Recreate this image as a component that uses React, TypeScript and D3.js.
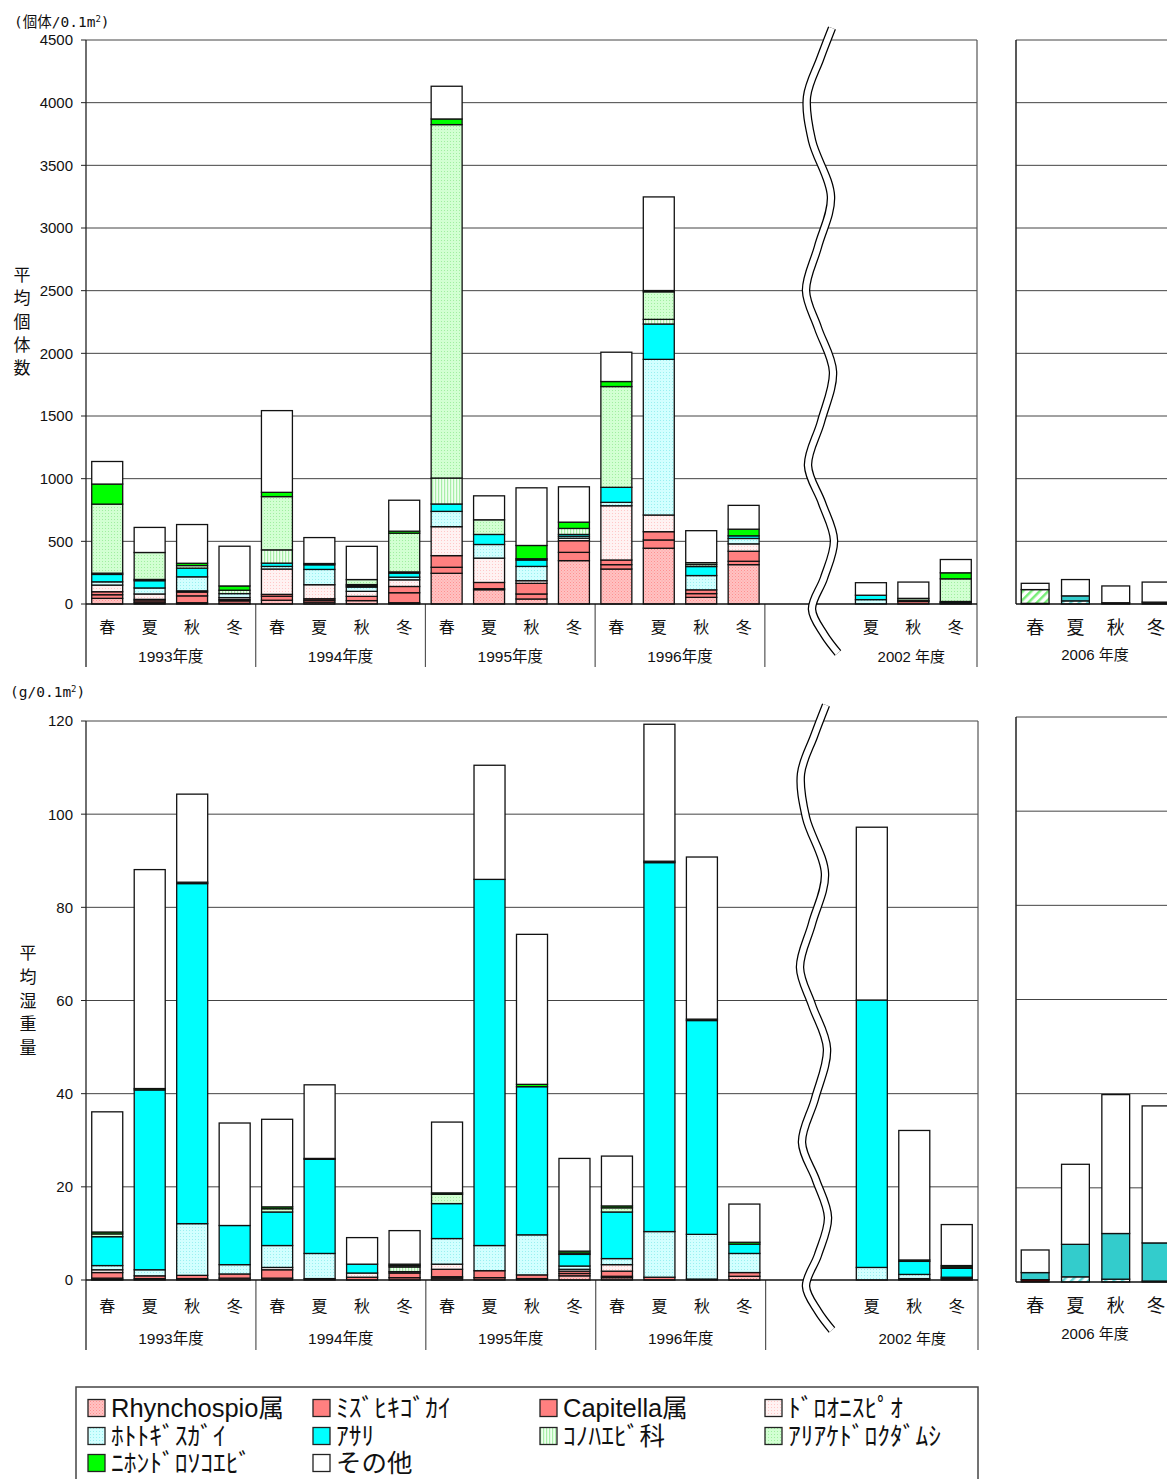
import React from 'react';
import * as d3 from 'd3';

// ---------- categories ----------
const seasons = ['春', '夏', '秋', '冬'];
const yearLabels = ['1993年度', '1994年度', '1995年度', '1996年度'];
const year2002Label = '2002 年度';
const year2006Label = '2006 年度';
const dataCats = [
  '1993-春', '1993-夏', '1993-秋', '1993-冬',
  '1994-春', '1994-夏', '1994-秋', '1994-冬',
  '1995-春', '1995-夏', '1995-秋', '1995-冬',
  '1996-春', '1996-夏', '1996-秋', '1996-冬',
  '2002-夏', '2002-秋', '2002-冬',
];
const mainSlots = [...dataCats.slice(0, 16), 'gap', '2002-春', '2002-夏', '2002-秋', '2002-冬'];

// ---------- series ----------
const seriesKeys = ['rhyncho', 'mizuhiki', 'capitella', 'drot', 'hotoke', 'asari', 'konoha', 'ariake', 'nihon', 'other'];
const seriesLabels = ['Rhynchospio属', 'ﾐｽﾞﾋｷｺﾞｶｲ', 'Capitella属', 'ﾄﾞﾛｵﾆｽﾋﾟｵ', 'ﾎﾄﾄｷﾞｽｶﾞｲ', 'ｱｻﾘ', 'ｺﾉﾊｴﾋﾞ科', 'ｱﾘｱｹﾄﾞﾛｸﾀﾞﾑｼ', 'ﾆﾎﾝﾄﾞﾛｿｺｴﾋﾞ', 'その他'];

// ---------- abundance (個体/0.1m2) 1993-1996, 2002 ----------
const rhynchoN = [45, 10, 10, 5, 30, 15, 27, 10, 245, 114, 40, 346, 279, 445, 53, 314, 0, 0, 0];
const mizuhikiN = [29, 15, 55, 20, 32, 15, 34, 80, 48, 8, 40, 66, 35, 66, 30, 27, 0, 20, 5];
const capitellaN = [24, 12, 30, 10, 15, 12, 0, 50, 93, 50, 85, 93, 37, 66, 30, 80, 0, 5, 5];
const drotN = [53, 43, 10, 16, 202, 112, 40, 53, 231, 194, 21, 20, 433, 133, 0, 59, 0, 0, 0];
const hotokeN = [26, 48, 112, 32, 21, 122, 34, 21, 122, 109, 114, 15, 27, 1242, 114, 43, 35, 5, 5];
const asariN = [59, 58, 69, 0, 26, 37, 10, 32, 59, 80, 51, 15, 120, 282, 72, 21, 35, 0, 5];
const konohaN = [10, 10, 0, 27, 106, 10, 10, 10, 207, 0, 10, 48, 0, 37, 16, 0, 0, 0, 0];
const ariakeN = [551, 215, 21, 0, 425, 0, 40, 309, 2820, 117, 0, 0, 804, 220, 15, 0, 0, 15, 181];
const nihonN = [160, 0, 18, 34, 34, 0, 0, 16, 45, 0, 106, 50, 40, 10, 0, 53, 0, 0, 48];
const otherN = [180, 200, 309, 317, 652, 207, 265, 247, 261, 191, 460, 282, 234, 747, 255, 190, 100, 130, 106];

// ---------- wet weight (g/0.1m2) 1993-1996, 2002 ----------
const rhynchoW = [0.1, 0, 0, 0, 0, 0, 0, 0, 0.4, 0, 0, 0.9, 0.5, 0, 0, 0.8, 0, 0, 0];
const mizuhikiW = [0.3, 0.3, 0.3, 0.4, 0.4, 0.3, 0.6, 0.5, 0.3, 0.5, 0.3, 0.5, 0.3, 0.6, 0.2, 0.8, 0, 0.3, 0.3];
const capitellaW = [1.2, 0.6, 0.7, 0.9, 1.8, 0, 0, 1.0, 1.6, 1.5, 0.8, 0.5, 1.1, 0, 0, 0, 0, 0, 0.3];
const drotW = [0.6, 0, 0, 0, 0.5, 0, 0.9, 0.3, 1.1, 0, 0, 0.4, 1.4, 0, 0, 0, 0, 0, 0];
const hotokeW = [0.9, 1.3, 11.1, 2.0, 4.7, 5.4, 0, 0, 5.5, 5.4, 8.6, 0.7, 1.3, 9.8, 9.6, 4.1, 2.7, 0.9, 0];
const asariW = [6.2, 38.6, 73.0, 8.4, 7.2, 20.2, 1.9, 0, 7.5, 78.6, 31.8, 2.5, 10.0, 79.2, 45.9, 2.0, 57.4, 2.8, 1.9];
const konohaW = [0, 0, 0, 0, 0, 0, 0, 1.0, 0, 0, 0, 0.3, 0, 0, 0, 0, 0, 0, 0];
const ariakeW = [0.6, 0, 0, 0, 0.7, 0, 0, 0.3, 2.0, 0, 0, 0, 0.9, 0, 0, 0, 0, 0, 0.3];
const nihonW = [0.4, 0.3, 0.3, 0, 0.4, 0.2, 0, 0.3, 0.3, 0, 0.5, 0.4, 0.4, 0.3, 0.3, 0.4, 0, 0.3, 0.3];
const otherW = [25.8, 47, 18.9, 22, 18.8, 15.8, 5.7, 7.2, 15.2, 24.5, 32.2, 19.9, 10.7, 29.4, 34.8, 8.2, 37.1, 27.8, 8.8];

// ---------- 2006 (春 夏 秋 冬) ----------
const rhyncho06N = [0, 0, 0, 0];
const mizuhiki06N = [0, 0, 0, 0];
const capitella06N = [5, 0, 0, 15];
const drot06N = [0, 0, 0, 0];
const hotoke06N = [0, 25, 0, 0];
const asari06N = [0, 40, 10, 0];
const konoha06N = [0, 0, 0, 0];
const ariake06N = [110, 0, 0, 0];
const nihon06N = [0, 0, 0, 0];
const other06N = [50, 130, 134, 160];

const rhyncho06W = [0, 0, 0, 0];
const mizuhiki06W = [0.5, 0, 0, 0.2];
const capitella06W = [0, 0, 0, 0];
const drot06W = [0, 0, 0, 0];
const hotoke06W = [0, 1.1, 0.6, 0];
const asari06W = [1.5, 6.9, 9.7, 8.1];
const konoha06W = [0, 0, 0, 0];
const ariake06W = [0, 0, 0, 0];
const nihon06W = [0, 0, 0, 0];
const other06W = [4.8, 17.0, 29.5, 29.1];

const countsMain = [rhynchoN, mizuhikiN, capitellaN, drotN, hotokeN, asariN, konohaN, ariakeN, nihonN, otherN];
const weightsMain = [rhynchoW, mizuhikiW, capitellaW, drotW, hotokeW, asariW, konohaW, ariakeW, nihonW, otherW];
const counts06 = [rhyncho06N, mizuhiki06N, capitella06N, drot06N, hotoke06N, asari06N, konoha06N, ariake06N, nihon06N, other06N];
const weights06 = [rhyncho06W, mizuhiki06W, capitella06W, drot06W, hotoke06W, asari06W, konoha06W, ariake06W, nihon06W, other06W];

const countTicks = d3.range(0, 4501, 500);
const weightTicks = d3.range(0, 121, 20);

// ---------- styles ----------
const fills: Record<string, string> = {
  rhyncho: 'url(#pRh)',
  mizuhiki: '#FF8080',
  capitella: '#FF8080',
  drot: 'url(#pDr)',
  hotoke: 'url(#pHo)',
  asari: '#00FFFF',
  konoha: 'url(#pKo)',
  ariake: 'url(#pAr)',
  nihon: '#00FF00',
  other: '#FFFFFF',
};
const fills06: Record<string, string> = {
  ...fills,
  asari: '#33CCCC',
  hotoke: 'url(#pHo6)',
  ariake: 'url(#pAr6)',
  mizuhiki: '#660000',
  capitella: '#222222',
};

const SANS = "'Liberation Sans', Arial, 'Noto Sans CJK JP', sans-serif";
const CJK = "'Noto Sans CJK JP', sans-serif";
const MONO = "'DejaVu Sans Mono', 'Noto Sans CJK JP', monospace";

function buildRows(cats: string[], arrays: number[][]) {
  return cats.map((c, i) => {
    const row: any = { cat: c };
    seriesKeys.forEach((k, j) => (row[k] = arrays[j][i]));
    return row;
  });
}

function Bars({ rows, x, y, fillMap }: any) {
  const stacked = d3.stack().keys(seriesKeys)(rows);
  const bw = x.bandwidth();
  return (
    <g>
      {stacked.map((layer: any) =>
        layer.map((d: any, i: number) => {
          const h = y(d[0]) - y(d[1]);
          if (h <= 0.01) return null;
          return (
            <rect
              key={layer.key + i}
              x={x(rows[i].cat)}
              y={y(d[1])}
              width={bw}
              height={h}
              fill={fillMap[layer.key]}
              stroke="#111"
              strokeWidth={1.3}
            />
          );
        })
      )}
    </g>
  );
}

function Wavy({ y0, y1, dx }: { y0: number; y1: number; dx: number }) {
  const pts: [number, number][] = [
    [832, 0], [820, 0.05], [807, 0.11], [812, 0.18], [831, 0.27], [818, 0.35], [806, 0.42],
    [818, 0.48], [833, 0.55], [821, 0.63], [808, 0.7], [822, 0.76], [834, 0.82], [824, 0.88], [812, 0.93], [824, 0.97], [838, 1.0],
  ];
  const line = d3.line<[number, number]>()
    .x((p) => p[0] + dx)
    .y((p) => y0 + p[1] * (y1 - y0))
    .curve(d3.curveCatmullRom.alpha(0.5));
  const d = line(pts) || '';
  return (
    <g>
      <path d={d} fill="none" stroke="#000" strokeWidth={8.5} />
      <path d={d} fill="none" stroke="#fff" strokeWidth={6} />
    </g>
  );
}

export default function App() {
  const W = 1167, H = 1479;
  const rowsN = buildRows(dataCats, countsMain);
  const rowsW = buildRows(dataCats, weightsMain);
  const rowsN06 = buildRows(seasons, counts06);
  const rowsW06 = buildRows(seasons, weights06);

  const xTop = d3.scaleBand<string>().domain(mainSlots).range([86, 977]).paddingInner(0.27).paddingOuter(0.135);
  const xBot = d3.scaleBand<string>().domain(mainSlots).range([86, 978]).paddingInner(0.27).paddingOuter(0.135);
  const xR = d3.scaleBand<string>().domain(seasons).range([1015, 1015 + 4 * 40.3]).paddingInner(0.31).paddingOuter(0.155);

  const yTop = d3.scaleLinear().domain([0, 4500]).range([604, 40]);
  const yBot = d3.scaleLinear().domain([0, 120]).range([1280, 721]);
  const yBotR = d3.scaleLinear().domain([0, 120]).range([1282, 717]);

  const gridColor = '#444';

  const renderMainAxis = (x: any, y: any, ticks: number[], right: number, base: number, seasonY: number, yearY: number, divBottom: number) => {
    const step = x.step();
    const bw = x.bandwidth();
    const groups = [0, 1, 2, 3, 4].map((g) => 86 + step * 4 * g);
    const c2002a = x('2002-夏');
    const c2002b = (x('2002-冬') as number) + bw;
    return (
      <g>
        {ticks.map((t) => (
          <g key={t}>
            {t > 0 && <line x1={86} x2={right} y1={y(t)} y2={y(t)} stroke={gridColor} strokeWidth={1} />}
            <line x1={81} x2={86} y1={y(t)} y2={y(t)} stroke="#222" strokeWidth={1} />
            <text x={73} y={y(t)} dy="0.36em" textAnchor="end" fontFamily={SANS} fontSize={15} fill="#111">{t}</text>
          </g>
        ))}
        <line x1={right} x2={right} y1={y(ticks[ticks.length - 1])} y2={divBottom} stroke="#555" strokeWidth={1.2} />
        <line x1={86} x2={86} y1={y(ticks[ticks.length - 1])} y2={divBottom} stroke="#222" strokeWidth={1.3} />
        {groups.slice(1).map((gx, i) => (
          <line key={i} x1={gx} x2={gx} y1={base} y2={divBottom} stroke="#555" strokeWidth={1.2} />
        ))}
        {mainSlots.map((s) => {
          if (s === 'gap' || s === '2002-春') return null;
          const season = s.split('-')[1];
          return (
            <text key={s} x={(x(s) as number) + bw / 2} y={seasonY} dy="0.35em" textAnchor="middle" fontFamily={CJK} fontSize={16} fill="#111">{season}</text>
          );
        })}
        {yearLabels.map((yl, g) => (
          <text key={yl} x={86 + step * (4 * g + 2)} y={yearY} dy="0.35em" textAnchor="middle" fontFamily={SANS} fontSize={15.5} fill="#111">{yl}</text>
        ))}
        <text x={((c2002a as number) + c2002b) / 2 - 2} y={yearY} dy="0.35em" textAnchor="middle" fontFamily={SANS} fontSize={15} fill="#111">{year2002Label}</text>
      </g>
    );
  };

  const renderRightAxis = (x: any, y: any, ticks: number[], base: number, seasonY: number, yearY: number) => {
    const bw = x.bandwidth();
    return (
      <g>
        {ticks.map((t) => (t > 0 ? <line key={t} x1={1016} x2={W} y1={y(t)} y2={y(t)} stroke={gridColor} strokeWidth={1} /> : null))}
        <line x1={1016} x2={1016} y1={y(ticks[ticks.length - 1])} y2={base} stroke="#222" strokeWidth={1.5} />
        {seasons.map((s) => (
          <text key={s} x={(x(s) as number) + bw / 2} y={seasonY} dy="0.35em" textAnchor="middle" fontFamily={CJK} fontSize={18} fill="#111">{s}</text>
        ))}
        <text x={1095} y={yearY} dy="0.35em" textAnchor="middle" fontFamily={SANS} fontSize={15} fill="#111">{year2006Label}</text>
      </g>
    );
  };

  const legendCols = [88, 313, 540, 765];
  const legendRows = [1408, 1436, 1463];

  return (
    <svg width={W} height={H} viewBox={`0 0 ${W} ${H}`} style={{ position: 'absolute', left: 0, top: 0, display: 'block', background: '#fff' }}>
      <defs>
        <pattern id="pRh" width="3" height="3" patternUnits="userSpaceOnUse">
          <rect width="3" height="3" fill="#FFC2C2" />
          <rect width="1" height="1" fill="#FF9090" />
          <rect x="1.5" y="1.5" width="1" height="1" fill="#FFA0A0" />
        </pattern>
        <pattern id="pDr" width="3" height="3" patternUnits="userSpaceOnUse">
          <rect width="3" height="3" fill="#FFF2F2" />
          <rect width="1" height="1" fill="#FFC8C8" />
        </pattern>
        <pattern id="pHo" width="3" height="3" patternUnits="userSpaceOnUse">
          <rect width="3" height="3" fill="#D2FFFF" />
          <rect width="1" height="1" fill="#99F0F0" />
        </pattern>
        <pattern id="pAr" width="3" height="3" patternUnits="userSpaceOnUse">
          <rect width="3" height="3" fill="#D2FFD2" />
          <rect width="1" height="1" fill="#A0EEA0" />
        </pattern>
        <pattern id="pKo" width="3" height="3" patternUnits="userSpaceOnUse">
          <rect width="3" height="3" fill="#EEFFEE" />
          <rect width="1.2" height="3" fill="#A8EEA8" />
        </pattern>
        <pattern id="pHo6" width="6" height="6" patternUnits="userSpaceOnUse" patternTransform="rotate(45)">
          <rect width="6" height="6" fill="#FFFFFF" />
          <rect width="2.5" height="6" fill="#66D9D9" />
        </pattern>
        <pattern id="pAr6" width="6" height="6" patternUnits="userSpaceOnUse" patternTransform="rotate(45)">
          <rect width="6" height="6" fill="#FFFFFF" />
          <rect width="2.5" height="6" fill="#77EE77" />
        </pattern>
      </defs>

      {/* ---------- TOP CHART ---------- */}
      <text x={14} y={22} dy="0.35em" fontFamily={MONO} fontSize={14.5} fill="#111">
        (個体/0.1m<tspan fontSize={9} dy="-5">2</tspan><tspan dy="5">)</tspan>
      </text>
      {Array.from('平均個体数').map((ch, i) => (
        <text key={i} x={22} y={275 + i * 23.3} dy="0.35em" textAnchor="middle" fontFamily={CJK} fontSize={17} fill="#111">{ch}</text>
      ))}
      {renderMainAxis(xTop, yTop, countTicks, 977, 604, 627, 657, 667)}
      <Bars rows={rowsN} x={xTop} y={yTop} fillMap={fills} />
      <line x1={86} x2={977} y1={604} y2={604} stroke="#111" strokeWidth={1.5} />
      <Wavy y0={28} y1={653} dx={0} />

      {renderRightAxis(xR, yTop, countTicks, 604, 628, 655)}
      <Bars rows={rowsN06} x={xR} y={yTop} fillMap={fills06} />
      <line x1={1016} x2={W} y1={604} y2={604} stroke="#111" strokeWidth={1.5} />

      {/* ---------- BOTTOM CHART ---------- */}
      <text x={10} y={692} dy="0.35em" fontFamily={MONO} fontSize={14.5} fill="#111">
        (g/0.1m<tspan fontSize={9} dy="-5">2</tspan><tspan dy="5">)</tspan>
      </text>
      {Array.from('平均湿重量').map((ch, i) => (
        <text key={i} x={28} y={953 + i * 23.8} dy="0.35em" textAnchor="middle" fontFamily={CJK} fontSize={17} fill="#111">{ch}</text>
      ))}
      {renderMainAxis(xBot, yBot, weightTicks, 978, 1280, 1306, 1339, 1350)}
      <Bars rows={rowsW} x={xBot} y={yBot} fillMap={fills} />
      <line x1={86} x2={978} y1={1280} y2={1280} stroke="#111" strokeWidth={1.5} />
      <Wavy y0={705} y1={1330} dx={-6} />

      {renderRightAxis(xR, yBotR, weightTicks, 1282, 1306, 1334)}
      <Bars rows={rowsW06} x={xR} y={yBotR} fillMap={fills06} />
      <line x1={1016} x2={W} y1={1282} y2={1282} stroke="#111" strokeWidth={1.5} />

      {/* ---------- LEGEND ---------- */}
      <rect x={76} y={1387} width={902} height={110} fill="#fff" stroke="#444" strokeWidth={1.5} />
      {seriesKeys.map((k, i) => {
        const col = i < 8 ? i % 4 : i - 8;
        const row = i < 8 ? Math.floor(i / 4) : 2;
        const lx = legendCols[col];
        const ly = legendRows[row];
        return (
          <g key={k}>
            <rect x={lx} y={ly - 8.5} width={17} height={17} fill={fills[k]} stroke="#222" strokeWidth={1.3} />
            <text x={lx + 23} y={ly} dy="0.36em" fontFamily={SANS} fontSize={25.5} fill="#111">{seriesLabels[i]}</text>
          </g>
        );
      })}
    </svg>
  );
}
